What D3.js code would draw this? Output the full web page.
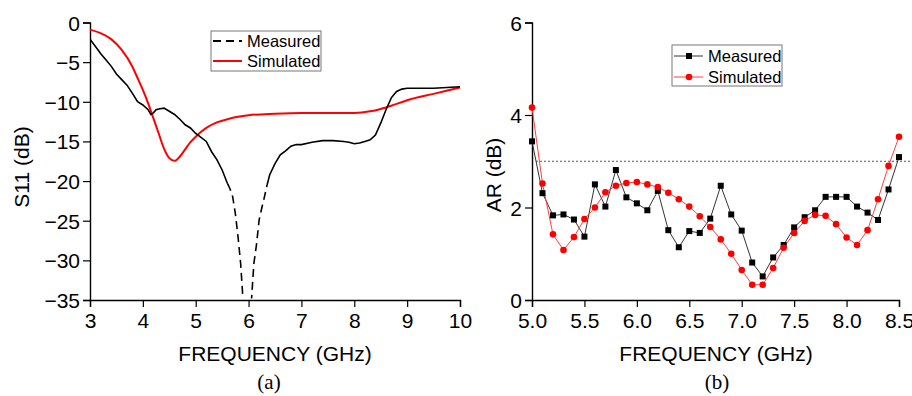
<!DOCTYPE html>
<html lang="en">
<head>
<meta charset="utf-8">
<title>S11 and AR</title>
<script src="https://d3js.org/d3.v7.min.js"></script>
<style>
  body { margin: 0; background: #fff; }
  svg text { font-family: Arial, "Liberation Sans", sans-serif; }
</style>
</head>
<body>
<svg id="chart" width="912" height="396"></svg>
<script>
// (a) S11 measured
var s11MeasFreq = [3.0,3.1,3.2,3.3,3.4,3.5,3.6,3.7,3.8,3.9,4.0,4.1,4.15,4.2,4.25,4.3,4.4,4.5,4.6,4.7,4.8,4.9,5.0,5.1,5.2,5.3,5.4,5.5,5.6,5.65,5.7,5.75,5.8,5.85,5.9,5.97,6.05,6.1,6.15,6.2,6.25,6.3,6.35,6.4,6.5,6.6,6.7,6.8,6.9,7.0,7.2,7.4,7.6,7.8,7.9,8.0,8.1,8.2,8.3,8.4,8.5,8.6,8.7,8.8,8.9,9.0,9.5,10.0];
var s11Meas = [-2.1,-3.0,-3.9,-4.7,-5.5,-6.5,-7.2,-7.9,-8.9,-10.0,-10.4,-11.0,-11.6,-11.4,-11.0,-10.9,-10.8,-11.2,-11.6,-12.2,-12.9,-13.3,-14.0,-14.5,-15.0,-16.3,-17.3,-18.6,-20.3,-21.0,-22.0,-24.1,-27.0,-30.4,-35.5,-40,-35.5,-30.4,-28.0,-24.9,-23.4,-22.0,-20.5,-19.2,-17.8,-16.7,-16.2,-15.6,-15.4,-15.4,-15.1,-14.9,-14.9,-15.0,-15.1,-15.3,-15.2,-15.0,-14.8,-14.2,-12.7,-11.0,-9.5,-8.7,-8.4,-8.3,-8.3,-8.1];
// (a) S11 simulated
var s11SimFreq = [3.0,3.2,3.4,3.6,3.8,3.9,4.0,4.1,4.2,4.3,4.4,4.5,4.6,4.7,4.8,4.9,5.0,5.2,5.4,5.6,5.8,6.0,6.5,7.0,7.5,8.0,8.3,8.5,8.7,9.0,9.5,10.0];
var s11Sim = [-0.9,-1.35,-2.1,-3.45,-5.55,-7.0,-8.5,-10.2,-12.1,-14.0,-15.9,-17.1,-17.45,-16.9,-16.0,-15.1,-14.4,-13.3,-12.6,-12.2,-11.9,-11.7,-11.5,-11.4,-11.4,-11.4,-11.2,-10.9,-10.5,-9.8,-9.0,-8.2];

// (b) axial ratio
var arFreq = [5.0,5.1,5.2,5.3,5.4,5.5,5.6,5.7,5.8,5.9,6.0,6.1,6.2,6.3,6.4,6.5,6.6,6.7,6.8,6.9,7.0,7.1,7.2,7.3,7.4,7.5,7.6,7.7,7.8,7.9,8.0,8.1,8.2,8.3,8.4,8.5];
var arMeas = [3.43,2.31,1.83,1.85,1.74,1.37,2.50,2.02,2.81,2.22,2.09,1.94,2.36,1.51,1.14,1.49,1.45,1.76,2.47,1.85,1.50,0.81,0.51,0.92,1.19,1.57,1.79,1.94,2.23,2.23,2.23,2.02,1.89,1.73,2.39,3.09];
var arSim = [4.16,2.52,1.42,1.08,1.36,1.75,2.00,2.33,2.47,2.53,2.55,2.50,2.44,2.32,2.18,2.02,1.81,1.58,1.31,1.00,0.65,0.33,0.33,0.69,1.13,1.45,1.71,1.84,1.82,1.64,1.35,1.19,1.51,2.18,2.90,3.53];
var arLimit = 3;

var svg = d3.select("#chart");

// ---------- panel (a) ----------
var xa = d3.scaleLinear().domain([3, 10]).range([90, 460]);
var ya = d3.scaleLinear().domain([-35, 0]).range([300, 22.5]);

svg.append("clipPath").attr("id", "clipA")
  .append("rect").attr("x", 90).attr("y", 22.5).attr("width", 370).attr("height", 276);

function axes(x, y, xMajor, xMinor, yMajor, yMinor, xFmt, yFmt, x0, y0) {
  var gx = svg.append("g").attr("transform", "translate(0," + y0 + ")");
  gx.call(d3.axisBottom(x).tickValues(xMinor).tickSize(3.5).tickFormat(""));
  gx.call(d3.axisBottom(x).tickValues(xMajor).tickSize(7).tickPadding(6).tickFormat(xFmt));
  var gy = svg.append("g").attr("transform", "translate(" + x0 + ",0)");
  gy.call(d3.axisLeft(y).tickValues(yMinor).tickSize(3.5).tickFormat(""));
  gy.call(d3.axisLeft(y).tickValues(yMajor).tickSize(7).tickPadding(3).tickFormat(yFmt));
  [gx, gy].forEach(function(g) {
    g.selectAll("path").attr("stroke", "#000").attr("stroke-width", 1.4);
    g.selectAll("line").attr("stroke", "#000").attr("stroke-width", 1.2);
    g.selectAll("text").attr("font-size", 21).attr("fill", "#000")
      .attr("font-family", "Arial, 'Liberation Sans', sans-serif");
  });
  gy.selectAll("text").attr("dy", "0.36em");
}

axes(xa, ya,
  d3.range(3, 10.01, 1), d3.range(3.5, 10, 1),
  d3.range(-35, 0.01, 5), d3.range(-32.5, 0, 5),
  d3.format("d"), function(d) { return d === 0 ? "0" : d3.format("d")(d); },
  90, 300);

var lineA = d3.line().x(function(d) { return xa(d[0]); }).y(function(d) { return ya(d[1]); });

var simA = s11SimFreq.map(function(f, i) { return [f, s11Sim[i]]; });
svg.append("path").datum(simA)
  .attr("d", lineA.curve(d3.curveMonotoneX))
  .attr("fill", "none").attr("stroke", "#ff0000").attr("stroke-width", 2);

// measured: dense part solid, steep dip drawn dashed
var measA = s11MeasFreq.map(function(f, i) { return [f, s11Meas[i]]; });
var dashFrom = 5.6, dashTo = 6.35;
var lineM = d3.line().x(function(d) { return xa(d[0]); }).y(function(d) { return ya(d[1]); });
var gm = svg.append("g").attr("clip-path", "url(#clipA)");
gm.append("path").datum(measA.filter(function(d) { return d[0] <= dashFrom; }))
  .attr("d", lineM).attr("fill", "none").attr("stroke", "#000").attr("stroke-width", 1.6);
gm.append("path").datum(measA.filter(function(d) { return d[0] >= dashFrom && d[0] <= dashTo; }))
  .attr("d", lineM).attr("fill", "none").attr("stroke", "#000").attr("stroke-width", 1.6)
  .attr("stroke-dasharray", "8,5");
gm.append("path").datum(measA.filter(function(d) { return d[0] >= dashTo; }))
  .attr("d", lineM).attr("fill", "none").attr("stroke", "#000").attr("stroke-width", 1.6);

// legend (a)
var la = svg.append("g").attr("transform", "translate(211,31)");
la.append("rect").attr("width", 110).attr("height", 40).attr("fill", "#fff")
  .attr("stroke", "#777").attr("stroke-width", 1);
la.append("line").attr("x1", 2).attr("x2", 31).attr("y1", 10).attr("y2", 10)
  .attr("stroke", "#000").attr("stroke-width", 1.8).attr("stroke-dasharray", "8,5");
la.append("line").attr("x1", 2).attr("x2", 31).attr("y1", 30).attr("y2", 30)
  .attr("stroke", "#ff0000").attr("stroke-width", 2);
la.append("text").attr("x", 36).attr("y", 16).attr("font-size", 16.5).text("Measured");
la.append("text").attr("x", 36).attr("y", 36).attr("font-size", 16.5).text("Simulated");

svg.append("text").attr("x", 275).attr("y", 361).attr("text-anchor", "middle")
  .attr("font-size", 21).text("FREQUENCY (GHz)");
svg.append("text").attr("transform", "translate(29,167) rotate(-90)")
  .attr("text-anchor", "middle").attr("font-size", 21).text("S11 (dB)");
svg.append("text").attr("x", 269).attr("y", 389).attr("text-anchor", "middle")
  .attr("font-size", 21).style("font-family", "'Liberation Serif', 'Times New Roman', serif").text("(a)");

// ---------- panel (b) ----------
var xb = d3.scaleLinear().domain([5, 8.5]).range([532, 899]);
var yb = d3.scaleLinear().domain([0, 6]).range([300, 22.5]);

axes(xb, yb,
  d3.range(5, 8.51, 0.5), d3.range(5.25, 8.5, 0.5),
  d3.range(0, 6.01, 2), d3.range(1, 6, 2),
  d3.format(".1f"), d3.format("d"),
  532, 300);

svg.append("line").attr("x1", xb(5) + 4).attr("x2", 912)
  .attr("y1", yb(arLimit)).attr("y2", yb(arLimit))
  .attr("stroke", "#555").attr("stroke-width", 1).attr("stroke-dasharray", "2,2");

var lineB = d3.line().x(function(d) { return xb(d[0]); }).y(function(d) { return yb(d[1]); });
var measB = arFreq.map(function(f, i) { return [f, arMeas[i]]; });
var simB = arFreq.map(function(f, i) { return [f, arSim[i]]; });

svg.append("path").datum(measB).attr("d", lineB)
  .attr("fill", "none").attr("stroke", "#333").attr("stroke-width", 1);
svg.append("path").datum(simB).attr("d", lineB)
  .attr("fill", "none").attr("stroke", "#ff4040").attr("stroke-width", 1);

svg.append("g").selectAll("rect").data(measB).join("rect")
  .attr("x", function(d) { return xb(d[0]) - 3; })
  .attr("y", function(d) { return yb(d[1]) - 3; })
  .attr("width", 6).attr("height", 6).attr("fill", "#000");
svg.append("g").selectAll("circle").data(simB).join("circle")
  .attr("cx", function(d) { return xb(d[0]); })
  .attr("cy", function(d) { return yb(d[1]); })
  .attr("r", 3.3).attr("fill", "#ff0000");

// legend (b)
var lb = svg.append("g").attr("transform", "translate(672,45)");
lb.append("rect").attr("width", 110).attr("height", 41).attr("fill", "#fff")
  .attr("stroke", "#777").attr("stroke-width", 1);
lb.append("line").attr("x1", 2).attr("x2", 31).attr("y1", 11).attr("y2", 11)
  .attr("stroke", "#333").attr("stroke-width", 1);
lb.append("rect").attr("x", 14).attr("y", 8).attr("width", 6).attr("height", 6).attr("fill", "#000");
lb.append("line").attr("x1", 2).attr("x2", 31).attr("y1", 32).attr("y2", 32)
  .attr("stroke", "#ff4040").attr("stroke-width", 1);
lb.append("circle").attr("cx", 17).attr("cy", 32).attr("r", 3.3).attr("fill", "#ff0000");
lb.append("text").attr("x", 36).attr("y", 17).attr("font-size", 16.5).text("Measured");
lb.append("text").attr("x", 36).attr("y", 38).attr("font-size", 16.5).text("Simulated");

svg.append("text").attr("x", 716).attr("y", 361).attr("text-anchor", "middle")
  .attr("font-size", 21).text("FREQUENCY (GHz)");
svg.append("text").attr("transform", "translate(501,175) rotate(-90)")
  .attr("text-anchor", "middle").attr("font-size", 21).text("AR (dB)");
svg.append("text").attr("x", 717).attr("y", 389).attr("text-anchor", "middle")
  .attr("font-size", 21).style("font-family", "'Liberation Serif', 'Times New Roman', serif").text("(b)");
</script>
</body>
</html>
